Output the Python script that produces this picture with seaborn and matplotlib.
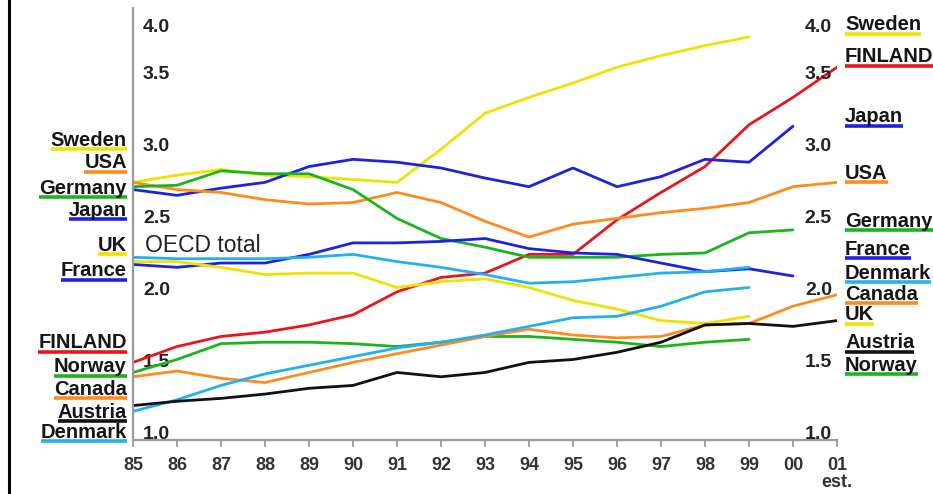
import numpy as np
import pandas as pd
import matplotlib
matplotlib.use("Agg")
import matplotlib.pyplot as plt
from matplotlib.lines import Line2D
import seaborn as sns

# ---- data: gross domestic expenditure on R&D as % of GDP ----
years = list(range(1985, 2002))
year_labels = ["85", "86", "87", "88", "89", "90", "91", "92", "93", "94",
               "95", "96", "97", "98", "99", "00", "01\nest."]
nan = np.nan

sweden  = [2.74, 2.79, 2.83, 2.79, 2.78, 2.76, 2.74, 2.97, 3.22, 3.33, 3.43, 3.54, 3.62, 3.69, 3.75, nan, nan]
finland = [1.49, 1.60, 1.67, 1.70, 1.75, 1.82, 1.98, 2.08, 2.11, 2.24, 2.24, 2.48, 2.67, 2.85, 3.14, 3.33, 3.54]
japan   = [2.69, 2.65, 2.70, 2.74, 2.85, 2.90, 2.88, 2.84, 2.77, 2.71, 2.84, 2.71, 2.78, 2.90, 2.88, 3.13, nan]
usa     = [2.74, 2.69, 2.67, 2.62, 2.59, 2.60, 2.67, 2.60, 2.47, 2.36, 2.45, 2.49, 2.53, 2.56, 2.60, 2.71, 2.74]
germany = [2.71, 2.72, 2.82, 2.80, 2.80, 2.69, 2.49, 2.35, 2.29, 2.22, 2.22, 2.22, 2.24, 2.25, 2.39, 2.41, nan]
france  = [2.17, 2.15, 2.18, 2.18, 2.24, 2.32, 2.32, 2.33, 2.35, 2.28, 2.25, 2.24, 2.18, 2.12, 2.14, 2.09, nan]
oecd    = [2.22, 2.21, 2.21, 2.21, 2.22, 2.24, 2.19, 2.15, 2.10, 2.04, 2.05, 2.08, 2.11, 2.12, 2.15, nan, nan]
uk      = [2.19, 2.19, 2.15, 2.10, 2.11, 2.11, 2.01, 2.05, 2.07, 2.01, 1.92, 1.86, 1.78, 1.76, 1.81, nan, nan]
norway  = [1.42, 1.51, 1.62, 1.63, 1.63, 1.62, 1.60, 1.63, 1.67, 1.67, 1.65, 1.63, 1.60, 1.63, 1.65, nan, nan]
canada  = [1.39, 1.43, 1.38, 1.35, 1.42, 1.49, 1.55, 1.61, 1.67, 1.72, 1.68, 1.66, 1.67, 1.75, 1.76, 1.88, 1.96]
denmark = [1.15, 1.23, 1.33, 1.41, 1.47, 1.53, 1.59, 1.63, 1.68, 1.74, 1.80, 1.81, 1.88, 1.98, 2.01, nan, nan]
austria = [1.19, 1.22, 1.24, 1.27, 1.31, 1.33, 1.42, 1.39, 1.42, 1.49, 1.51, 1.56, 1.63, 1.75, 1.76, 1.74, 1.78]

series = {
    "Sweden": sweden, "FINLAND": finland, "Japan": japan, "USA": usa,
    "Germany": germany, "France": france, "OECD total": oecd, "UK": uk,
    "Norway": norway, "Canada": canada, "Denmark": denmark, "Austria": austria,
}

YELLOW, RED, BLUE, ORANGE = "#f0e200", "#e8161c", "#1e22e0", "#ff8a1e"
GREEN, LIGHTBLUE, BLACK = "#1cb41c", "#22b0f0", "#111111"
palette = {
    "Sweden": YELLOW, "FINLAND": RED, "Japan": BLUE, "USA": ORANGE,
    "Germany": GREEN, "France": BLUE, "OECD total": LIGHTBLUE, "UK": YELLOW,
    "Norway": GREEN, "Canada": ORANGE, "Denmark": LIGHTBLUE, "Austria": BLACK,
}

y_ticks = [1.0, 1.5, 2.0, 2.5, 3.0, 3.5, 3.83]
y_tick_labels = ["1.0", "1.5", "2.0", "2.5", "3.0", "3.5", "4.0"]

# series name labels (text centre in pixels from the top)
left_labels = [("Sweden", 140), ("USA", 163), ("Germany", 188), ("Japan", 210),
               ("UK", 245), ("France", 271), ("FINLAND", 343), ("Norway", 367),
               ("Canada", 389), ("Austria", 412), ("Denmark", 432)]
right_labels = [("Sweden", 25), ("FINLAND", 57), ("Japan", 117), ("USA", 173),
                ("Germany", 221), ("France", 249), ("Denmark", 273), ("Canada", 294),
                ("UK", 315), ("Austria", 343), ("Norway", 365)]

df = pd.DataFrame(
    [(name, yr, v) for name, vals in series.items() for yr, v in zip(years, vals)],
    columns=["series", "year", "value"],
).dropna()

# ---- drawing ----
sns.set_theme(style="white")
plt.rcParams["font.family"] = ["Liberation Sans", "DejaVu Sans"]

W, H = 933, 494
fig = plt.figure(figsize=(W / 100, H / 100), dpi=100)
fig.patch.set_facecolor("white")
ax = fig.add_axes([133 / W, (H - 440) / H, 704 / W, 432 / H])

sns.lineplot(data=df, x="year", y="value", hue="series", palette=palette,
             estimator=None, legend=False, linewidth=2.0, ax=ax)

ax.set_xlim(1985, 2001)
ax.set_ylim(0.951, 3.951)
ax.set_xlabel("")
ax.set_ylabel("")
ax.set_facecolor("white")

for side in ("top", "right"):
    ax.spines[side].set_visible(False)
for side in ("left", "bottom"):
    ax.spines[side].set_color("#9a9a9a")
    ax.spines[side].set_linewidth(1.6)

ax.set_xticks(years)
ax.set_xticklabels(year_labels, fontsize=13, fontweight="bold", color="#333333",
                   linespacing=1.0)
ax.tick_params(axis="x", direction="out", length=5, width=1.3, color="#9a9a9a", pad=7,
               bottom=True)

ax.set_yticks(y_ticks)
ax.set_yticklabels(y_tick_labels, fontsize=14, fontweight="bold", color="#222222")
ax.tick_params(axis="y", length=0, pad=-7.2)
plt.setp(ax.get_yticklabels(), ha="left")

ax2 = ax.twinx()
ax2.set_ylim(ax.get_ylim())
ax2.set_yticks(y_ticks)
ax2.set_yticklabels(y_tick_labels, fontsize=14, fontweight="bold", color="#222222")
ax2.tick_params(axis="y", length=0, pad=-3.6)
plt.setp(ax2.get_yticklabels(), ha="right")
for s in ax2.spines.values():
    s.set_visible(False)

ax.annotate("OECD total", xy=(145, H - 245), xycoords="figure pixels",
            ha="left", va="center", fontsize=16.5, color="#222222")

# left frame line
fig.add_artist(Line2D([8.5 / W, 8.5 / W], [0, 1], transform=fig.transFigure,
                      color="black", linewidth=2.2))

texts = []
for name, y in left_labels:
    t = fig.text(127 / W, 1 - y / H, name, ha="right", va="center",
                 fontsize=14.5, fontweight="bold", color="#151515")
    texts.append((t, palette[name]))
for name, y in right_labels:
    t = fig.text(845 / W, 1 - y / H, name, ha="left", va="center",
                 fontsize=14.5, fontweight="bold", color="#151515")
    texts.append((t, palette[name]))

# coloured underline beneath each series name
fig.canvas.draw()
renderer = fig.canvas.get_renderer()
for t, col in texts:
    bb = t.get_window_extent(renderer)
    yb = bb.y0 + 0.5
    fig.add_artist(Line2D([bb.x0 / W, bb.x1 / W], [yb / H, yb / H],
                          transform=fig.transFigure, color=col, linewidth=2.6,
                          solid_capstyle="butt"))

fig.savefig("out.png", dpi=100, facecolor="white")
